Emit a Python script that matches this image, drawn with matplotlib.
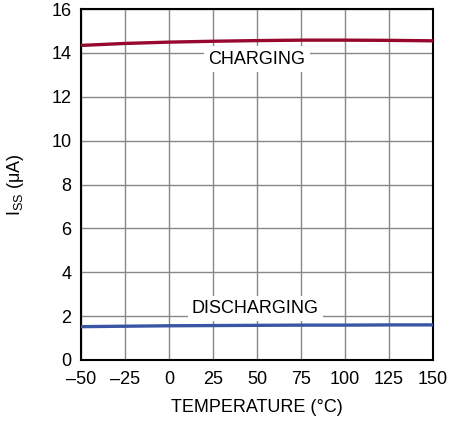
import matplotlib
matplotlib.use("Agg")
import matplotlib.pyplot as plt

# Supply current vs temperature
temp = [-50, -25, 0, 25, 50, 75, 100, 125, 150]
charging = [14.34, 14.43, 14.49, 14.53, 14.56, 14.58, 14.58, 14.57, 14.55]
discharging = [1.52, 1.54, 1.56, 1.57, 1.58, 1.59, 1.59, 1.60, 1.60]

xticks = [-50, -25, 0, 25, 50, 75, 100, 125, 150]
xlabels = ["\u201350", "\u201325", "0", "25", "50", "75", "100", "125", "150"]
yticks = [0, 2, 4, 6, 8, 10, 12, 14, 16]

plt.rcParams['font.family'] = ['Liberation Sans', 'DejaVu Sans']

fig = plt.figure(figsize=(4.61, 4.21), dpi=100)
ax = fig.add_axes([81/461, 1 - 360/421, 352/461, 351/421])

ax.plot(temp, charging, color='#98082e', lw=2.4, zorder=3)
ax.plot(temp, discharging, color='#3b55a5', lw=2.4, zorder=3)

ax.set_xlim(-50, 150)
ax.set_ylim(0, 16)
ax.set_xticks(xticks)
ax.set_xticklabels(xlabels)
ax.set_yticks(yticks)
ax.tick_params(length=0, labelsize=13)
ax.tick_params(axis='x', pad=8)
ax.tick_params(axis='y', pad=7)
ax.grid(True, color='#888888', lw=1)
ax.set_axisbelow(True)
for s in ax.spines.values():
    s.set_linewidth(1.5)

box = dict(facecolor='white', edgecolor='none', pad=3)
ax.text(50, 13.72, "CHARGING", ha='center', va='center', fontsize=13, bbox=box, zorder=2)
ax.text(49, 2.36, "DISCHARGING", ha='center', va='center', fontsize=13, bbox=box, zorder=2)

ax.set_xlabel("TEMPERATURE (\u00b0C)", fontsize=13, labelpad=8)
ax.set_ylabel("I$_{\\mathregular{SS}}$ (\u03bcA)", fontsize=13, labelpad=18)

fig.savefig("out.png", dpi=100)
